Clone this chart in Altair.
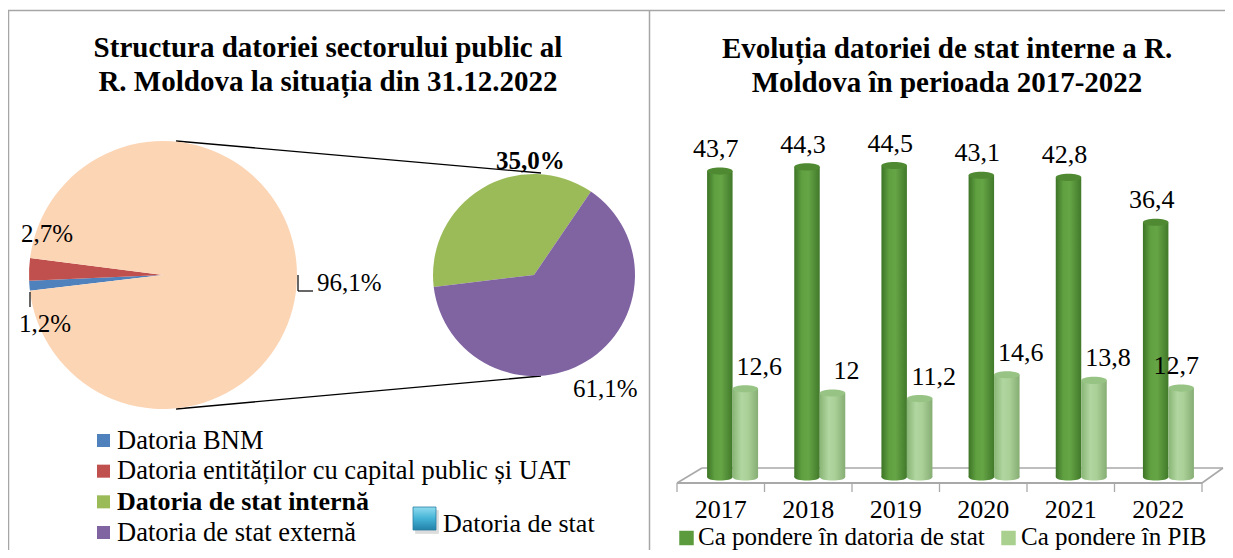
import math
import altair as alt
import pandas as pd

FONT = "Liberation Serif"

# ---------------- data ----------------
pie1_cats = ["Datoria BNM", "Datoria entităților cu capital public și UAT", "Datoria de stat"]
pie1_vals = [1.2, 2.7, 96.1]
pie1_colors = ["#4f81bd", "#c0504d", "#fcd5b5"]

pie2_cats = ["Datoria de stat internă", "Datoria de stat externă"]
pie2_vals = [35.0, 61.1]
pie2_colors = ["#9bbb59", "#8064a2"]

legend_cats = ["Datoria BNM", "Datoria entităților cu capital public și UAT",
               "Datoria de stat internă", "Datoria de stat externă"]
legend_colors = ["#4f81bd", "#c0504d", "#9bbb59", "#8064a2"]
aggregate_label = "Datoria de stat"

years = ["2017", "2018", "2019", "2020", "2021", "2022"]
share_debt = [43.7, 44.3, 44.5, 43.1, 42.8, 36.4]
share_gdp = [12.6, 12, 11.2, 14.6, 13.8, 12.7]
series = ["Ca pondere în datoria de stat", "Ca pondere în PIB"]
series_colors = ["#5b9b3d", "#a9d08e"]

title_left = ["Structura datoriei sectorului public al", "R. Moldova la situația din 31.12.2022"]
title_right = ["Evoluția datoriei de stat interne a R.", "Moldova în perioada 2017-2022"]

W, H = 1217, 542


def P(v):
    return v - 8


def fmt1(v):
    return f"{v:.1f}".replace(".", ",")


def fmtg(v):
    return ("%g" % v).replace(".", ",")


one = pd.DataFrame({"a": [0]})


def txt(s, x, y, size=25, bold=False, align="left", lh=None):
    kw = dict(font=FONT, fontSize=size, align=align, baseline="alphabetic", color="#000000")
    if bold:
        kw["fontWeight"] = "bold"
    if lh:
        kw["lineHeight"] = lh
    return alt.Chart(one).mark_text(text=s, **kw).encode(x=alt.value(P(x)), y=alt.value(P(y)))


def line(x1, y1, x2, y2, color="#000000", w=1.3):
    return alt.Chart(one).mark_rule(color=color, strokeWidth=w).encode(
        x=alt.value(P(x1)), y=alt.value(P(y1)), x2=alt.value(P(x2)), y2=alt.value(P(y2)))


layers = []

# ---------------- frame ----------------
GR = "#a6a6a6"
layers += [line(8, 10.5, 1233, 10.5, GR, 1.5), line(8.5, 10.5, 8.5, 558, GR, 1.5),
           line(649.5, 10.5, 649.5, 558, GR, 1.5)]

# ---------------- titles ----------------
layers.append(txt(title_left, 328, 57, 29, True, "center", 34))
layers.append(txt(title_right, 947, 58, 29, True, "center", 34))

# ---------------- pie of pie ----------------
a0 = math.radians(263.2)
pie1_df = pd.DataFrame({"cat": pie1_cats, "v": pie1_vals, "i": list(range(len(pie1_cats)))})
pie1 = alt.Chart(pie1_df).mark_arc(radius=134).encode(
    theta=alt.Theta("v:Q", stack=True, scale=alt.Scale(range=[a0, a0 + 2 * math.pi])),
    color=alt.Color("cat:N", scale=alt.Scale(domain=pie1_cats, range=pie1_colors), legend=None),
    order=alt.Order("i:Q"),
    x=alt.value(P(163)), y=alt.value(P(275)),
)
pie2_df = pd.DataFrame({"cat": pie2_cats, "v": pie2_vals, "i": list(range(len(pie2_cats)))})
pie2 = alt.Chart(pie2_df).mark_arc(radius=101).encode(
    theta=alt.Theta("v:Q", stack=True, scale=alt.Scale(range=[a0, a0 + 2 * math.pi])),
    color=alt.Color("cat:N", scale=alt.Scale(domain=pie2_cats, range=pie2_colors), legend=None),
    order=alt.Order("i:Q"),
    x=alt.value(P(534)), y=alt.value(P(275)),
)
layers += [line(176, 141, 541, 173), line(176, 409, 541, 376), pie1, pie2]

# leader lines
layers += [line(298, 275, 298, 291, w=1.2), line(298, 291, 313, 291, w=1.2), line(30, 292, 30, 307, w=1.2)]

# pie labels
layers += [
    txt(fmt1(pie1_vals[1]) + "%", 21, 242),
    txt(fmt1(pie1_vals[0]) + "%", 19, 332),
    txt(fmt1(pie1_vals[2]) + "%", 317, 291),
    txt(fmt1(pie2_vals[0]) + "%", 496, 169, bold=True),
    txt(fmt1(pie2_vals[1]) + "%", 573, 397),
]

# left legend
leg_df = pd.DataFrame({"cat": legend_cats, "i": list(range(len(legend_cats)))})
ly = alt.Y("i:Q", scale=alt.Scale(domain=[0, 3], range=[P(440.5), P(532.5)]), axis=None)
layers.append(alt.Chart(leg_df).mark_square(size=170, opacity=1).encode(
    x=alt.value(P(103.5)), y=ly,
    color=alt.Color("cat:N", scale=alt.Scale(domain=legend_cats, range=legend_colors), legend=None)))
layers.append(alt.Chart(leg_df).transform_filter(alt.datum.i != 2).mark_text(
    font=FONT, fontSize=26.5, align="left", baseline="alphabetic", dy=8, color="#000000").encode(
    x=alt.value(P(117)), y=ly, text="cat:N"))
layers.append(alt.Chart(leg_df).transform_filter(alt.datum.i == 2).mark_text(
    font=FONT, fontSize=26, fontWeight="bold", align="left", baseline="alphabetic", dy=8,
    color="#000000").encode(x=alt.value(P(117)), y=ly, text="cat:N"))

# 3D icon for aggregate
icon_grad = alt.LinearGradient(gradient="linear", x1=0, y1=0, x2=0, y2=1, stops=[
    alt.GradientStop(offset=0, color="#8fdcef"), alt.GradientStop(offset=0.5, color="#45b3d6"),
    alt.GradientStop(offset=1, color="#2381a8")])
layers.append(alt.Chart(one).mark_square(size=560, color="#9a9a9a", opacity=0.35).encode(
    x=alt.value(P(427)), y=alt.value(P(522))))
layers.append(alt.Chart(one).mark_square(size=529, fill=icon_grad, stroke="#2a7fa3",
                                          strokeWidth=0.8, opacity=1).encode(
    x=alt.value(P(424.5)), y=alt.value(P(518.5))))
layers.append(txt(aggregate_label, 443, 532, 26))

# ---------------- bars ----------------
bar_df = pd.DataFrame({
    "year": years * 2,
    "series": [series[0]] * len(years) + [series[1]] * len(years),
    "value": share_debt + share_gdp,
})
bar_df["label"] = [fmtg(v) for v in bar_df["value"]]

# one band scale per series (bars of a pair sit side by side, 25.5 px each)
series_ranges = [[P(676.25), P(1199.25)], [P(701.75), P(1224.75)]]


def xs_for(k):
    return alt.X("year:N", scale=alt.Scale(domain=years, range=series_ranges[k],
                                           paddingInner=0.7075, paddingOuter=0.35375), axis=None)


ys = alt.Y("value:Q", scale=alt.Scale(domain=[0, 50], range=[P(477), P(127)]), axis=None)
yb = alt.Y("base:Q", scale=alt.Scale(domain=[0, 50], range=[P(477), P(127)]), axis=None)

# floor
FL = "#a9a9a9"
layers += [line(677, 483, 1202, 483, FL, 2.2), line(702, 468, 1223, 468, FL, 1.6),
           line(677, 483, 702, 468, FL, 1.6), line(1202, 483, 1223, 468, FL, 1.6)]
tick_df = pd.DataFrame({"i": list(range(len(years) + 1))})
layers.append(alt.Chart(tick_df).mark_rule(color=FL, strokeWidth=1.3).encode(
    x=alt.X("i:Q", scale=alt.Scale(domain=[0, len(years)], range=[P(677), P(1202)]), axis=None),
    y=alt.value(P(483)), y2=alt.value(P(492))))

ELL = "M-1,0 C-1,-0.37 1,-0.37 1,0 C1,0.37 -1,0.37 -1,0 Z"
SZ = 650

grads = [
    alt.LinearGradient(gradient="linear", x1=0, y1=0, x2=1, y2=0, stops=[
        alt.GradientStop(offset=0, color="#3d7426"), alt.GradientStop(offset=0.3, color="#60a041"),
        alt.GradientStop(offset=0.55, color="#66a546"), alt.GradientStop(offset=1, color="#41792a")]),
    alt.LinearGradient(gradient="linear", x1=0, y1=0, x2=1, y2=0, stops=[
        alt.GradientStop(offset=0, color="#88b575"), alt.GradientStop(offset=0.35, color="#b1d6a0"),
        alt.GradientStop(offset=0.6, color="#aad098"), alt.GradientStop(offset=1, color="#86ad74")]),
]
caps = ["#4f8a32", "#97c384"]

for k, s in enumerate(series):
    base = alt.Chart(bar_df).transform_filter(alt.datum.series == s)
    xs = xs_for(k)
    layers.append(base.transform_calculate(base="0").mark_point(
        shape=ELL, size=SZ, filled=True, fill=grads[k], opacity=1).encode(x=xs, y=yb))
    layers.append(base.mark_bar(fill=grads[k]).encode(x=xs, y=ys))
    layers.append(base.mark_point(shape=ELL, size=SZ, filled=True, fill=caps[k], opacity=1).encode(
        x=xs, y=ys))

# value labels
lab_style = dict(font=FONT, fontSize=26, baseline="alphabetic", color="#000000")
base0 = alt.Chart(bar_df).transform_filter(alt.datum.series == series[0])
layers.append(base0.mark_text(dx=-4, dy=-14, **lab_style).encode(x=xs_for(0), y=ys, text="label:N"))
base1 = alt.Chart(bar_df).transform_filter(alt.datum.series == series[1])
layers.append(base1.transform_filter(alt.datum.year != years[-1]).mark_text(dx=14, dy=-14, **lab_style).encode(
    x=xs_for(1), y=ys, text="label:N"))
layers.append(base1.transform_filter(alt.datum.year == years[-1]).mark_text(dx=-5, dy=-14, **lab_style).encode(
    x=xs_for(1), y=ys, text="label:N"))

# year labels
year_df = pd.DataFrame({"year": years})
layers.append(alt.Chart(year_df).mark_text(font=FONT, fontSize=26, baseline="alphabetic",
                                           color="#000000").encode(
    x=alt.X("year:N", scale=alt.Scale(domain=years, range=[P(677), P(1202)],
                                      paddingInner=0, paddingOuter=0), axis=None),
    y=alt.value(P(518)), text="year:N"))

# right legend
ser_df = pd.DataFrame({"series": series})
layers.append(alt.Chart(ser_df).mark_square(size=210, opacity=1).encode(
    x=alt.X("series:N", scale=alt.Scale(type="point", domain=series, range=[P(686.5), P(1008.5)],
                                        padding=0), axis=None),
    y=alt.value(P(538)),
    color=alt.Color("series:N", scale=alt.Scale(domain=series, range=series_colors), legend=None)))
layers.append(alt.Chart(ser_df).mark_text(font=FONT, fontSize=25, align="left", baseline="alphabetic",
                                          color="#000000").encode(
    x=alt.X("series:N", scale=alt.Scale(type="point", domain=series, range=[P(698), P(1021)],
                                        padding=0), axis=None),
    y=alt.value(P(545)), text="series:N"))

chart = alt.layer(*layers).resolve_scale(
    x="independent", y="independent", theta="independent", color="independent"
).properties(
    width=W, height=H, padding=0, autosize=alt.AutoSizeParams(type="none"),
    background="#ffffff"
).configure_view(strokeWidth=0)

chart.save("out.html", embed_options={"renderer": "svg", "actions": False})
